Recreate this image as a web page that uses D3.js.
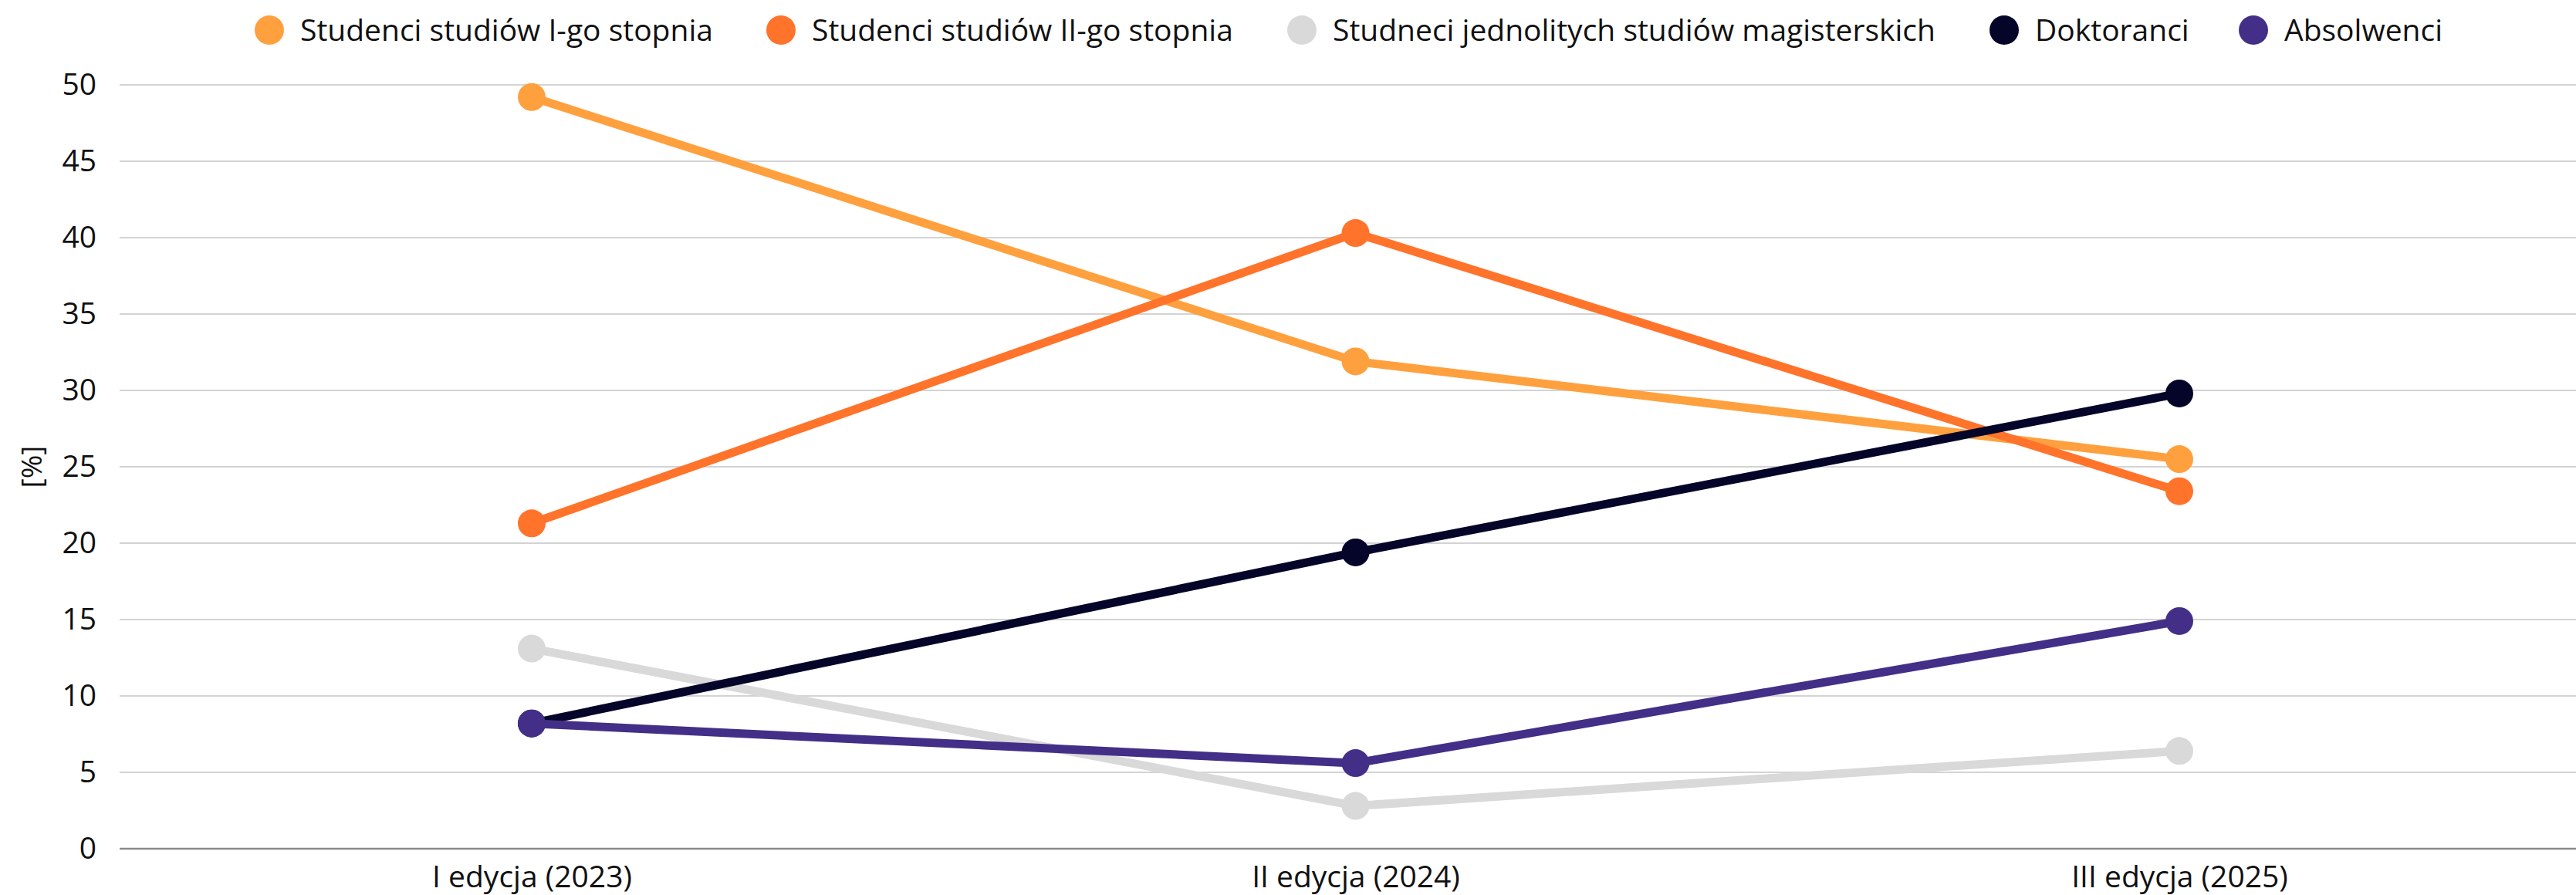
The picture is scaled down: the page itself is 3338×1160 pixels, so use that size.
<!DOCTYPE html>
<html>

<head>
    <meta charset="UTF-8">
    <script src="https://d3js.org/d3.v7.min.js"></script>
    <style>
        body { margin: 0; background: #fff; }
        svg { display: block; font-family: "Open Sans", sans-serif; }
    </style>
</head>

<body>
    <svg></svg>

    <script>
        let width = 3338, height = 1160;

        // dane
        let editions = ["I edycja (2023)", "II edycja (2024)", "III edycja (2025)"];
        let seriesNames = ["Studenci studiów I-go stopnia", "Studenci studiów II-go stopnia",
            "Studneci jednolitych studiów magisterskich", "Doktoranci", "Absolwenci"];
        let seriesColors = ["#ffa03f", "#ff732b", "#d9d9d9", "#05052a", "#432f87"];
        let stopien1 = [49.2, 31.9, 25.5];
        let stopien2 = [21.3, 40.3, 23.4];
        let jednolite = [13.1, 2.8, 6.4];
        let doktoranci = [8.2, 19.4, 29.8];
        let absolwenci = [8.2, 5.6, 14.9];
        let yTicks = [0, 5, 10, 15, 20, 25, 30, 35, 40, 45, 50];

        let allValues = [stopien1, stopien2, jednolite, doktoranci, absolwenci];

        let svg = d3.select("svg")
            .attr("width", width)
            .attr("height", height)
            .attr("viewBox", "0 0 " + width + " " + height);

        let x = d3.scalePoint()
            .domain(editions)
            .range([689, 2824]);

        let y = d3.scaleLinear()
            .domain([0, 50])
            .range([1100, 110]);

        // siatka
        svg.append("g")
            .selectAll("line")
            .data(yTicks.filter(d => d > 0))
            .enter()
            .append("line")
            .attr("x1", 155)
            .attr("x2", width)
            .attr("y1", d => y(d))
            .attr("y2", d => y(d))
            .attr("stroke", "#d3d3d3")
            .attr("stroke-width", 2);

        // os y
        let yAxis = svg.append("g")
            .attr("transform", "translate(155,0)")
            .call(d3.axisLeft(y).tickValues(yTicks).tickSize(0).tickPadding(30));
        yAxis.select(".domain").remove();
        yAxis.selectAll("text")
            .style("font-size", "39px")
            .style("font-family", "Open Sans")
            .attr("fill", "#111");

        svg.append("text")
            .attr("transform", "translate(41," + y(25) + ") rotate(-90)")
            .attr("text-anchor", "middle")
            .attr("dy", "0.35em")
            .style("font-size", "37px")
            .attr("fill", "#111")
            .text("[%]");

        // os x
        let xAxis = svg.append("g")
            .attr("transform", "translate(0," + y(0) + ")")
            .call(d3.axisBottom(x).tickSize(0).tickPadding(22));
        xAxis.select(".domain").remove();
        xAxis.selectAll("text")
            .style("font-size", "39px")
            .style("font-family", "Open Sans")
            .attr("fill", "#111");

        svg.append("line")
            .attr("x1", 155)
            .attr("x2", width)
            .attr("y1", y(0))
            .attr("y2", y(0))
            .attr("stroke", "#8a8a8a")
            .attr("stroke-width", 2.5);

        // linie
        let line = d3.line()
            .x((d, i) => x(editions[i]))
            .y(d => y(d));

        allValues.forEach((vals, k) => {
            let g = svg.append("g");
            g.append("path")
                .attr("d", line(vals))
                .attr("fill", "none")
                .attr("stroke", seriesColors[k])
                .attr("stroke-width", 11);
            g.selectAll("circle")
                .data(vals)
                .enter()
                .append("circle")
                .attr("cx", (d, i) => x(editions[i]))
                .attr("cy", d => y(d))
                .attr("r", 18)
                .attr("fill", seriesColors[k]);
        });

        // legenda
        let legendX = [349, 1012, 1687, 2597, 2920];
        let legend = svg.append("g");
        seriesNames.forEach((name, k) => {
            legend.append("circle")
                .attr("cx", legendX[k])
                .attr("cy", 39)
                .attr("r", 19)
                .attr("fill", seriesColors[k]);
            legend.append("text")
                .attr("x", legendX[k] + 40)
                .attr("y", 39)
                .attr("dy", "0.35em")
                .style("font-size", "39px")
                .attr("fill", "#111")
                .text(name);
        });
    </script>

</body>

</html>
